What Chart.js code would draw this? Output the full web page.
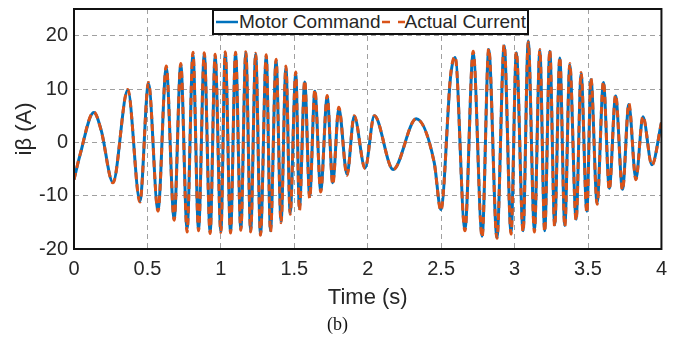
<!DOCTYPE html>
<html>
<head>
  <title>Motor Command vs Actual Current</title>
  <script src="https://cdn.jsdelivr.net/npm/chart.js@4"></script>
  <style>
    body {
      margin: 0;
      background: #fff;
    }
    .wrap {
      position: relative;
      width: 675px;
      height: 338px;
    }
    .legend {
      position: absolute;
      left: 212px;
      top: 9px;
      width: 317px;
      height: 26px;
      box-sizing: border-box;
      border: 2px solid #111;
      background: #fff;
      font: 19px "Liberation Sans", Arial, sans-serif;
      color: #262626;
      display: flex;
      align-items: center;
      white-space: nowrap;
      padding-left: 1px;
    }
    .legend svg {
      display: block;
      flex: none;
    }
    .caption {
      position: absolute;
      left: 0;
      top: 313px;
      width: 675px;
      text-align: center;
      font: 18px "Liberation Serif", "Times New Roman", serif;
      line-height: 22px;
      color: #111;
    }
  </style>
</head>
<body>
  <div class="wrap">
    <canvas id="chart" width="675" height="338"></canvas>
    <div class="legend">
      <svg width="24" height="10"><line x1="1" y1="5" x2="23" y2="5" stroke="#0072BD" stroke-width="2.5"/></svg>
      <span>Motor Command</span>
      <svg width="24" height="10"><line x1="1" y1="5" x2="24" y2="5" stroke="#D95319" stroke-width="2.5" stroke-dasharray="8,8"/></svg>
      <span>Actual Current</span>
    </div>
    <div class="caption">(b)</div>
  </div>

  <script>
    // time axis (s) and the two current traces (A)
    const timeS = [
      0, 0.04, 0.135, 0.185, 0.265, 0.366, 0.449, 0.507, 0.572, 0.628,
      0.682, 0.727, 0.77, 0.81, 0.848, 0.887, 0.927, 0.961, 1.0, 1.03,
      1.066, 1.1, 1.136, 1.17, 1.203, 1.237, 1.27, 1.309, 1.338, 1.376,
      1.41, 1.443, 1.472, 1.51, 1.535, 1.571, 1.605, 1.64, 1.68, 1.724,
      1.762, 1.803, 1.859, 1.908, 1.982, 2.045, 2.173, 2.33, 2.453, 2.498,
      2.565, 2.595, 2.662, 2.718, 2.779, 2.824, 2.88, 2.929, 2.976, 3.012,
      3.058, 3.093, 3.135, 3.172, 3.205, 3.24, 3.273, 3.308, 3.342, 3.376,
      3.419, 3.453, 3.492, 3.52, 3.562, 3.605, 3.645, 3.688, 3.735, 3.778,
      3.826, 3.874, 3.935, 4.0
    ];
    const motorCommand = [
      -7.0, -2.5, 5.6, 2.3, -7.5, 9.8, -11.0, 11.0, -12.7, 14.0,
      -14.4, 14.6, -16.3, 16.5, -16.4, 16.6, -16.9, 16.2, -16.7, 16.8,
      -16.9, 16.8, -16.3, 16.8, -16.6, 16.5, -17.3, 16.2, -16.6, 15.4,
      -14.8, 14.0, -13.2, 12.9, -12.3, 11.3, -10.1, 9.6, -9.0, 8.5,
      -7.6, 6.4, -6.0, 4.9, -4.8, 5.0, -5.1, 4.4, -3.8, -12.6,
      12.5, 15.9, -16.3, 16.8, -17.6, 17.4, -17.9, 18.1, -17.0, 16.8,
      -16.6, 19.0, -16.5, 17.2, -16.6, 17.1, -15.5, 15.8, -15.6, 14.5,
      -14.4, 12.8, -12.9, 11.8, -11.3, 11.2, -8.6, 8.7, -8.8, 7.1,
      -6.9, 4.8, -4.2, 3.7
    ];
    const actualCurrent = [
      -7.0, -2.4, 5.7, 2.2, -7.6, 9.9, -11.2, 11.2, -12.9, 14.3,
      -14.6, 14.8, -16.8, 16.9, -16.6, 16.8, -17.1, 16.5, -16.9, 17.0,
      -17.0, 16.9, -16.5, 17.0, -16.8, 16.7, -17.4, 16.4, -16.8, 15.6,
      -15.1, 14.3, -13.5, 13.2, -12.8, 11.6, -10.5, 9.9, -9.3, 8.8,
      -7.9, 6.6, -6.2, 5.0, -4.9, 5.0, -5.1, 4.4, -3.9, -12.8,
      12.8, 16.1, -16.6, 17.1, -17.8, 17.6, -18.0, 18.3, -17.2, 17.0,
      -16.8, 18.8, -16.8, 17.4, -16.8, 17.3, -15.8, 16.0, -15.8, 14.8,
      -14.7, 13.1, -13.2, 12.0, -11.6, 11.4, -8.9, 8.9, -9.0, 7.3,
      -7.0, 4.9, -4.3, 3.7
    ];
    const xTicks = [0, 0.5, 1, 1.5, 2, 2.5, 3, 3.5, 4];
    const yTicks = [-20, -10, 0, 10, 20];

    const toPoints = (ys) => ys.map((y, i) => ({ x: timeS[i], y: y }));

    const frame = {
      id: 'frame',
      afterDatasetsDraw(chart) {
        const { ctx, chartArea: a } = chart;
        ctx.save();
        ctx.strokeStyle = '#111';
        ctx.lineWidth = 2;
        ctx.strokeRect(a.left, a.top, a.right - a.left, a.bottom - a.top);
        ctx.restore();
      }
    };

    const tickFont = { family: '"Liberation Sans", Arial, sans-serif', size: 20 };
    const titleFont = { family: '"Liberation Sans", Arial, sans-serif', size: 22 };
    const gridColor = 'rgba(120, 120, 120, 0.7)';

    new Chart(document.getElementById('chart'), {
      type: 'line',
      data: {
        datasets: [{
          label: 'Motor Command',
          data: toPoints(motorCommand),
          borderColor: '#0072BD',
          borderWidth: 3,
          pointRadius: 0,
          cubicInterpolationMode: 'monotone',
          order: 2
        }, {
          label: 'Actual Current',
          data: toPoints(actualCurrent),
          borderColor: '#D95319',
          borderWidth: 3,
          borderDash: [7, 5],
          pointRadius: 0,
          cubicInterpolationMode: 'monotone',
          order: 1
        }]
      },
      options: {
        responsive: false,
        animation: false,
        layout: { padding: { top: 9, right: 7, left: 0, bottom: 0 } },
        plugins: {
          legend: { display: false },
          tooltip: { enabled: false }
        },
        scales: {
          x: {
            type: 'linear',
            min: 0,
            max: 4,
            afterBuildTicks: (s) => { s.ticks = xTicks.map((v) => ({ value: v })); },
            afterFit: (s) => { s.height = 89; },
            ticks: {
              color: '#262626',
              font: tickFont,
              padding: 8,
              maxRotation: 0,
              callback: (v) => String(v)
            },
            grid: { color: gridColor, lineWidth: 1, drawTicks: false },
            border: { display: false, dash: [5, 4] },
            title: {
              display: true,
              text: 'Time (s)',
              color: '#262626',
              font: titleFont,
              padding: { top: 0, bottom: 27 }
            }
          },
          y: {
            min: -20,
            max: 25,
            afterBuildTicks: (s) => { s.ticks = yTicks.map((v) => ({ value: v })); },
            afterFit: (s) => { s.width = 74; s.paddingTop = 0; s.paddingBottom = 0; },
            ticks: {
              color: '#262626',
              font: tickFont,
              padding: 6,
              callback: (v) => String(v)
            },
            grid: { color: gridColor, lineWidth: 1, drawTicks: false },
            border: { display: false, dash: [5, 4] },
            title: {
              display: true,
              text: 'iβ (A)',
              color: '#262626',
              font: titleFont,
              padding: { top: 12, bottom: 0 }
            }
          }
        }
      },
      plugins: [frame]
    });
  </script>
</body>
</html>
